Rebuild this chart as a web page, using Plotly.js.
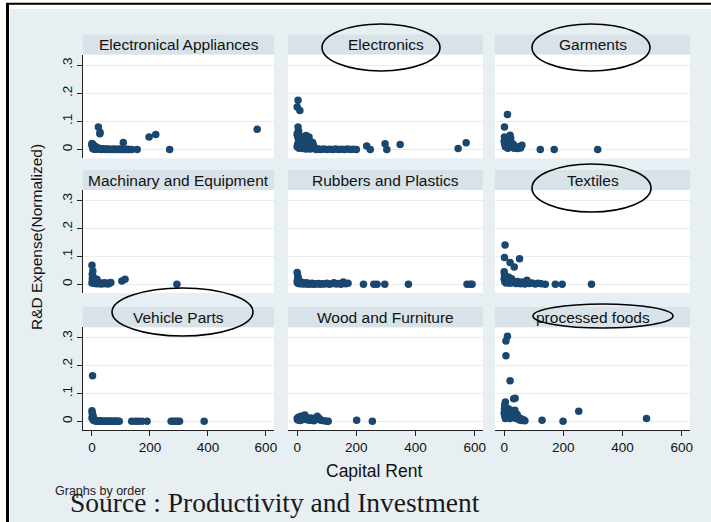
<!DOCTYPE html>
<html><head><meta charset="utf-8">
<script src="https://cdn.plot.ly/plotly-3.0.1.min.js"></script>
<style>html,body{margin:0;padding:0;background:#fff}#chart{width:711px;height:522px}</style>
</head><body><div id="chart"></div>
<script>
// ---------- DATA ----------
const categories = ["Electronical Appliances","Electronics","Garments",
  "Machinary and Equipment","Rubbers and Plastics","Textiles",
  "Vehicle Parts","Wood and Furniture","processed foods"];

const xTickVals = [0,200,400,600];
const xTickText = ["0","200","400","600"];
const yTickVals = [0,0.1,0.2,0.3];
const yTickText = ["0",".1",".2",".3"];

const elecApplX = [0,0,1,2,3,4,5,6,8,10,12,14,3,7,11,15,18,20,22,25,28,30,33,36,40,44,48,52,56,60,65,70,75,80,85,90,95,100,105,110,115,120,125,130,137,22,28,27,108,156,197,220,268,570];
const elecApplY = [0.022,0.015,0.02,0.012,0.018,0.008,0.014,0.01,0.005,0.012,0.006,0.009,0.003,0.002,0.001,0.004,0.002,0.006,0.003,0.001,0.004,0.002,0,0.003,0.001,0.002,0,0.001,0.002,0,0.001,0,0.002,0,0.001,0,0.002,0,0.001,0,0,0.001,0,0,0,0.080,0.061,0.056,0.025,0,0.045,0.054,0,0.072];

const electronicsX = [0,1,2,3,4,5,6,7,8,9,10,12,14,16,18,20,22,25,28,30,33,36,40,44,48,52,55,0,2,4,6,8,10,12,15,18,21,24,27,30,35,40,45,50,60,65,70,75,80,90,100,110,120,130,140,150,160,170,180,190,200,3,0,9,3,5,235,247,297,303,348,544,571];
const electronicsY = [0.055,0.05,0.06,0.045,0.04,0.035,0.05,0.03,0.04,0.025,0.035,0.02,0.03,0.025,0.035,0.045,0.04,0.03,0.045,0.05,0.035,0.04,0.045,0.03,0.02,0.025,0.015,0.01,0.02,0.015,0.005,0.012,0.008,0.018,0.006,0.01,0.004,0.012,0.006,0.002,0.008,0.004,0.002,0.006,0.003,0,0.002,0.001,0,0.002,0,0.001,0,0.002,0,0.001,0,0.002,0,0.001,0,0.175,0.151,0.139,0.080,0.065,0.013,0,0.021,0,0.018,0.004,0.024];

const garmentsX = [0,1,2,3,4,5,6,8,10,12,14,16,18,20,22,25,28,30,33,36,40,45,50,55,60,1,11,20,122,169,316];
const garmentsY = [0.03,0.045,0.02,0.035,0.01,0.025,0.04,0.015,0.03,0.005,0.02,0.035,0.01,0.025,0.04,0.015,0.01,0.02,0.005,0.012,0.008,0.004,0.01,0.006,0.015,0.080,0.125,0.051,0,0,0];

const machineryX = [0,1,2,3,4,5,6,8,10,12,15,18,20,25,30,35,40,45,50,55,60,65,0,3,1,17,63,103,114,293];
const machineryY = [0.005,0.02,0.01,0.03,0.015,0.005,0.012,0.008,0.003,0.01,0.006,0.002,0.008,0.004,0.001,0.005,0.002,0.006,0.003,0.001,0.004,0.007,0.068,0.048,0.036,0.018,0.006,0.012,0.018,0];

const rubbersX = [0,1,2,4,6,8,10,13,16,20,24,28,32,36,40,45,50,55,60,66,72,78,85,92,100,108,116,124,132,140,148,156,164,172,0,2,4,224,259,270,296,376,574,585,591];
const rubbersY = [0.008,0.015,0.004,0.012,0.006,0.002,0.01,0.003,0.007,0.001,0.005,0.002,0.006,0,0.003,0.001,0.004,0,0.002,0.001,0.003,0,0.002,0.001,0.004,0,0.002,0.006,0.001,0.003,0,0.008,0.002,0.004,0.042,0.03,0.022,0,0,0,0,0,0,0,0];

const textilesX = [0,1,2,3,4,5,6,8,10,12,14,16,18,20,22,25,28,30,35,40,45,50,55,60,65,70,77,85,95,105,115,125,139,3,1,52,20,34,0,173,196,295];
const textilesY = [0.02,0.035,0.01,0.028,0.015,0.03,0.005,0.022,0.012,0.018,0.008,0.025,0.004,0.015,0.01,0.02,0.006,0.012,0.008,0.003,0.01,0.005,0.002,0.008,0.004,0.001,0.015,0.003,0.005,0.001,0.004,0.002,0,0.141,0.096,0.092,0.078,0.062,0.045,0,0,0];

const vehicleX = [0,1,2,3,4,5,6,8,10,0,2,4,6,12,15,18,22,26,30,35,40,45,50,55,60,65,70,75,80,85,90,94,2,137,150,160,172,190,273,280,288,296,302,387];
const vehicleY = [0.038,0.03,0.025,0.02,0.015,0.01,0.008,0.005,0.003,0.012,0.018,0.006,0.003,0.002,0,0.001,0,0.002,0,0.001,0,0,0.001,0,0,0.001,0,0,0.001,0,0,0,0.164,0,0,0,0,0,0,0,0,0,0,0];

const woodX = [0,2,4,6,8,10,12,14,16,18,20,22,24,26,28,30,33,36,40,44,48,52,56,60,68,75,80,90,100,105,201,254];
const woodY = [0.01,0.005,0.015,0.008,0.012,0.003,0.018,0.01,0.006,0.014,0.009,0.02,0.012,0.023,0.016,0.008,0.013,0.005,0.01,0.004,0.012,0.007,0.002,0.005,0.018,0.01,0.004,0.002,0,0,0.004,0];

const foodsX = [0,1,2,3,4,5,6,8,10,12,14,16,18,20,22,25,28,30,33,36,40,44,48,52,56,60,65,70,11,6,6,20,32,37,4,2,128,199,252,481];
const foodsY = [0.03,0.045,0.02,0.05,0.01,0.035,0.025,0.04,0.015,0.03,0.045,0.02,0.035,0.01,0.04,0.025,0.015,0.03,0.02,0.04,0.01,0.025,0.015,0.005,0.01,0.003,0.006,0.002,0.306,0.289,0.236,0.146,0.081,0.083,0.07,0.06,0.004,0,0.036,0.010];

const panelX = [elecApplX, electronicsX, garmentsX, machineryX, rubbersX, textilesX, vehicleX, woodX, foodsX];
const panelY = [elecApplY, electronicsY, garmentsY, machineryY, rubbersY, textilesY, vehicleY, woodY, foodsY];

// ---------- LAYOUT (pixel geometry) ----------
const W = 711, H = 522;
const fx = p => p / W;
const fy = p => 1 - p / H;
const cols = [[83,274],[288,483],[495,690]];
const rows = [[54.5,158.3],[190,293],[327.3,430]];
const strips = [[34.5,54.5],[170,190],[307,327.3]];
const xRange = [-31, 628];
const yRange = [-0.031, 0.338];
const navy = '#1a476f';
const sans = 'Liberation Sans, Arial, sans-serif';
const serif = 'Liberation Serif, Times New Roman, serif';

const traces = [];
const layout = {
  width: W, height: H,
  margin: {l:0, r:0, t:0, b:0},
  paper_bgcolor: '#e8eff2',
  plot_bgcolor: '#ffffff',
  showlegend: false,
  shapes: [], annotations: []
};

for (let i = 0; i < 9; i++) {
  const r = Math.floor(i / 3), c = i % 3;
  const sfx = i === 0 ? '' : String(i + 1);
  traces.push({
    type: 'scatter', mode: 'markers',
    x: panelX[i], y: panelY[i],
    xaxis: 'x' + sfx, yaxis: 'y' + sfx,
    marker: {color: navy, size: 7.5},
    cliponaxis: false, hoverinfo: 'skip'
  });
  layout['xaxis' + sfx] = {
    domain: [fx(cols[c][0]), fx(cols[c][1])], range: xRange, anchor: 'y' + sfx,
    showgrid: false, zeroline: false,
    showline: r === 2, linecolor: '#222', linewidth: 1,
    ticks: r === 2 ? 'outside' : '', ticklen: 5, tickcolor: '#222',
    tickvals: xTickVals, ticktext: xTickText, showticklabels: r === 2,
    tickfont: {family: sans, size: 13.5, color: '#111'}, fixedrange: true
  };
  layout['yaxis' + sfx] = {
    domain: [fy(rows[r][1]), fy(rows[r][0])], range: yRange, anchor: 'x' + sfx,
    showgrid: true, gridcolor: '#e6eef0', gridwidth: 1, zeroline: false,
    showline: c === 0, linecolor: '#222', linewidth: 1,
    ticks: c === 0 ? 'outside' : '', ticklen: 5, tickcolor: '#222',
    tickvals: yTickVals, ticktext: yTickText, showticklabels: c === 0,
    tickangle: -90, tickfont: {family: sans, size: 13.5, color: '#111'}, fixedrange: true
  };
  // strip
  layout.shapes.push({type:'rect', xref:'paper', yref:'paper', layer:'below',
    x0: fx(cols[c][0]), x1: fx(cols[c][1]), y0: fy(strips[r][1]), y1: fy(strips[r][0]),
    fillcolor:'#d8e3e9', line:{width:0}});
  layout.annotations.push({xref:'paper', yref:'paper',
    x: fx((cols[c][0] + cols[c][1]) / 2), y: fy((strips[r][0] + strips[r][1]) / 2),
    xanchor:'center', yanchor:'middle', showarrow:false, text: categories[i],
    font:{family: sans, size: 15.5, color:'#111'}});
}

// ellipses drawn around some panel titles
const ellipses = [[322,440,24,71],[532,650,24,71],[532,651,164,212],[112,253,288,336],[533,673,304,328]];
ellipses.forEach(e => layout.shapes.push({type:'circle', xref:'paper', yref:'paper', layer:'above',
  x0: fx(e[0]), x1: fx(e[1]), y0: fy(e[3]), y1: fy(e[2]),
  line:{color:'#000', width:1.6}, fillcolor:'rgba(0,0,0,0)'}));

// page framing (white margin + black frame lines)
layout.shapes.push({type:'rect', xref:'paper', yref:'paper', layer:'above', x0:0, x1:1, y0:fy(9), y1:1, fillcolor:'#ffffff', line:{width:0}});
layout.shapes.push({type:'rect', xref:'paper', yref:'paper', layer:'above', x0:0, x1:fx(10), y0:0, y1:1, fillcolor:'#ffffff', line:{width:0}});

// titles & notes
layout.annotations.push({xref:'paper', yref:'paper', x: fx(-14), y: fy(1.2), xanchor:'left', yanchor:'bottom',
  showarrow:false, text:'Capital Rent and R&amp;D Expense (Normalized) by Order',
  font:{family: serif, size: 34, color:'#000'}});
layout.shapes.push({type:'line', xref:'paper', yref:'paper', layer:'above', x0:fx(6), x1:1, y0:fy(3.7), y1:fy(3.7), line:{color:'#000', width:2}});
layout.shapes.push({type:'line', xref:'paper', yref:'paper', layer:'above', x0:fx(7.5), x1:fx(7.5), y0:0, y1:fy(3), line:{color:'#000', width:3}});

layout.annotations.push({xref:'paper', yref:'paper', x: fx(36), y: fy(237), xanchor:'center', yanchor:'middle',
  showarrow:false, textangle:-90, text:'R&amp;D Expense(Normalized)', font:{family: sans, size: 15.5, color:'#111'}});
layout.annotations.push({xref:'paper', yref:'paper', x: fx(373.5), y: fy(471), xanchor:'center', yanchor:'middle',
  showarrow:false, text:'Capital Rent', font:{family: sans, size: 17.5, color:'#111'}});
layout.annotations.push({xref:'paper', yref:'paper', x: fx(53), y: fy(491), xanchor:'left', yanchor:'middle',
  showarrow:false, text:'Graphs by order', font:{family: sans, size: 12.5, color:'#222'}});
layout.annotations.push({xref:'paper', yref:'paper', x: fx(68), y: fy(520), xanchor:'left', yanchor:'bottom',
  showarrow:false, text:'Source : Productivity and Investment', font:{family: serif, size: 27.5, color:'#1a1a1a'}});

Plotly.newPlot('chart', traces, layout, {displayModeBar:false, staticPlot:true});
</script></body></html>
